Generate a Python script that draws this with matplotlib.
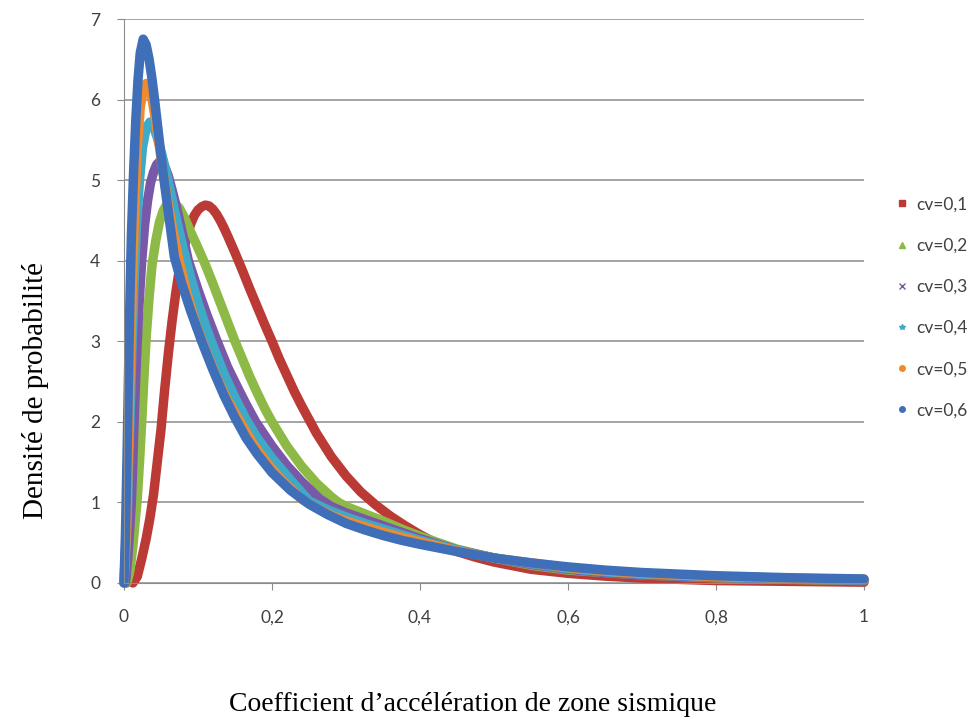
#import some functions
import matplotlib.pyplot as plt
from matplotlib.lines import Line2D

#curves for each coefficient of variation (x = acceleration coefficient, y = density)
x_cv01 = [0.012, 0.018, 0.024, 0.03, 0.035, 0.04, 0.045, 0.05, 0.055, 0.06, 0.065, 0.07, 0.075,
          0.08, 0.085, 0.09, 0.095, 0.10, 0.105, 0.11, 0.115, 0.12, 0.125, 0.13, 0.135, 0.14,
          0.15, 0.16, 0.17, 0.18, 0.19, 0.20, 0.21, 0.22, 0.23, 0.24, 0.26, 0.28, 0.30, 0.32,
          0.34, 0.36, 0.38, 0.40, 0.425, 0.45, 0.475, 0.50, 0.55, 0.60, 0.65, 0.70, 0.80,
          0.90, 1.00]
y_cv01 = [0.0, 0.08, 0.3, 0.55, 0.8, 1.1, 1.5, 1.9, 2.4, 2.85, 3.25, 3.6, 3.9,
          4.12, 4.3, 4.45, 4.56, 4.63, 4.67, 4.69, 4.68, 4.64, 4.58, 4.5, 4.41, 4.31,
          4.1, 3.88, 3.65, 3.43, 3.21, 3.0, 2.78, 2.58, 2.38, 2.2, 1.86, 1.57, 1.33, 1.13,
          0.97, 0.83, 0.71, 0.6, 0.48, 0.39, 0.32, 0.26, 0.17, 0.12, 0.085, 0.06, 0.03,
          0.02, 0.01]

x_cv02 = [0.004, 0.008, 0.012, 0.015, 0.018, 0.021, 0.024, 0.027, 0.03, 0.034, 0.038, 0.043,
          0.048, 0.053, 0.058, 0.063, 0.068, 0.075, 0.082, 0.09, 0.10, 0.11, 0.12, 0.13, 0.14,
          0.15, 0.16, 0.17, 0.18, 0.19, 0.20, 0.22, 0.24, 0.26, 0.28, 0.29, 0.30, 0.325, 0.35,
          0.375, 0.40, 0.45, 0.50, 0.55, 0.60, 0.70, 0.80, 0.90, 1.00]
y_cv02 = [0.0, 0.15, 0.45, 0.75, 1.05, 1.5, 2.0, 2.55, 3.05, 3.55, 3.95, 4.25,
          4.48, 4.62, 4.7, 4.73, 4.72, 4.65, 4.53, 4.36, 4.16, 3.95, 3.72, 3.48, 3.24,
          3.0, 2.78, 2.56, 2.36, 2.17, 2.0, 1.7, 1.45, 1.24, 1.07, 1.0, 0.95, 0.86, 0.77,
          0.67, 0.58, 0.42, 0.31, 0.22, 0.16, 0.10, 0.065, 0.045, 0.03]

x_cv03 = [0.002, 0.005, 0.008, 0.01, 0.012, 0.014, 0.017, 0.02, 0.024, 0.028, 0.032, 0.036,
          0.04, 0.044, 0.048, 0.052, 0.056, 0.06, 0.065, 0.07, 0.075, 0.08, 0.087, 0.10, 0.112,
          0.125, 0.14, 0.155, 0.165, 0.178, 0.20, 0.22, 0.24, 0.265, 0.28, 0.30, 0.325, 0.35,
          0.375, 0.40, 0.45, 0.50, 0.55, 0.60, 0.65, 0.70, 0.80, 0.90, 1.00]
y_cv03 = [0.0, 0.3, 0.7, 1.0, 1.5, 2.1, 2.8, 3.4, 4.0, 4.45, 4.75, 4.97,
          5.1, 5.19, 5.23, 5.21, 5.15, 5.05, 4.88, 4.7, 4.5, 4.3, 4.0, 3.64, 3.33,
          3.02, 2.68, 2.4, 2.22, 2.0, 1.7, 1.46, 1.26, 1.04, 0.95, 0.87, 0.79, 0.71,
          0.63, 0.55, 0.41, 0.31, 0.23, 0.17, 0.13, 0.10, 0.07, 0.05, 0.035]

x_cv04 = [0.0, 0.004, 0.006, 0.008, 0.011, 0.014, 0.017, 0.021, 0.025, 0.03, 0.035, 0.04,
          0.045, 0.05, 0.055, 0.06, 0.07, 0.08, 0.09, 0.10, 0.11, 0.12, 0.135, 0.15, 0.165,
          0.18, 0.20, 0.225, 0.25, 0.275, 0.30, 0.325, 0.35, 0.375, 0.40, 0.45, 0.50, 0.55,
          0.60, 0.65, 0.70, 0.80, 0.90, 1.00]
y_cv04 = [0.0, 0.7, 1.4, 2.0, 3.0, 3.8, 4.45, 5.0, 5.4, 5.65, 5.72, 5.66,
          5.53, 5.36, 5.18, 4.98, 4.55, 4.15, 3.8, 3.48, 3.2, 2.95, 2.6, 2.3, 2.03,
          1.8, 1.55, 1.28, 1.02, 0.91, 0.82, 0.74, 0.67, 0.6, 0.53, 0.41, 0.31, 0.24,
          0.18, 0.14, 0.11, 0.075, 0.055, 0.04]

x_cv05 = [0.0, 0.003, 0.005, 0.007, 0.009, 0.012, 0.015, 0.018, 0.022, 0.026, 0.03, 0.034,
          0.038, 0.042, 0.047, 0.052, 0.058, 0.066, 0.074, 0.085, 0.097, 0.11, 0.125, 0.14,
          0.157, 0.175, 0.195, 0.215, 0.24, 0.26, 0.28, 0.30, 0.325, 0.35, 0.375, 0.40, 0.45,
          0.50, 0.55, 0.60, 0.65, 0.70, 0.80, 0.90, 1.00]
y_cv05 = [0.0, 0.6, 1.3, 2.1, 2.9, 3.9, 4.75, 5.4, 5.9, 6.13, 6.2, 6.15,
          6.0, 5.78, 5.47, 5.15, 4.8, 4.38, 4.02, 3.6, 3.22, 2.9, 2.56, 2.27,
          2.0, 1.72, 1.47, 1.26, 1.04, 0.93, 0.84, 0.77, 0.7, 0.63, 0.57, 0.51, 0.40,
          0.31, 0.25, 0.19, 0.15, 0.12, 0.08, 0.06, 0.045]

x_cv06 = [0.0, 0.002, 0.004, 0.006, 0.008, 0.01, 0.013, 0.016, 0.019, 0.022, 0.026, 0.03,
          0.034, 0.038, 0.042, 0.047, 0.053, 0.06, 0.068, 0.078, 0.09, 0.105, 0.12, 0.135,
          0.15, 0.165, 0.18, 0.20, 0.225, 0.25, 0.275, 0.30, 0.325, 0.35, 0.375, 0.40,
          0.45, 0.50, 0.55, 0.60, 0.65, 0.70, 0.80, 0.90, 1.00]
y_cv06 = [0.0, 0.6, 1.5, 2.5, 3.5, 4.3, 5.1, 5.75, 6.25, 6.58, 6.75, 6.68,
          6.5, 6.25, 5.95, 5.55, 5.08, 4.6, 4.05, 3.72, 3.38, 3.0, 2.65, 2.33,
          2.05, 1.8, 1.6, 1.37, 1.15, 0.98, 0.85, 0.74, 0.66, 0.59, 0.53, 0.48,
          0.39, 0.31, 0.25, 0.20, 0.16, 0.13, 0.09, 0.065, 0.05]

labels = ['cv=0,1', 'cv=0,2', 'cv=0,3', 'cv=0,4', 'cv=0,5', 'cv=0,6']
colors = ['#BB3A35', '#8DB946', '#7A58A8', '#3FAAC8', '#F08A2E', '#3F6FB8']
markers = ['s', '^', 'x', '*', 'o', 'o']
xs = [x_cv01, x_cv02, x_cv03, x_cv04, x_cv05, x_cv06]
ys = [y_cv01, y_cv02, y_cv03, y_cv04, y_cv05, y_cv06]

x_ticks = [0, 0.2, 0.4, 0.6, 0.8, 1.0]
x_tick_labels = ['0', '0,2', '0,4', '0,6', '0,8', '1']
y_ticks = [0, 1, 2, 3, 4, 5, 6, 7]

plt.rcParams['font.family'] = ['Lato', 'DejaVu Sans']

fig = plt.figure(figsize=(9.73, 7.2), dpi=100)
ax = fig.add_axes([0.1274, 0.1903, 0.7606, 0.7833])

#thick lines to look like the dense marker bands
for x, y, c in zip(xs, ys, colors):
    ax.plot(x, y, color=c, lw=6.8, solid_capstyle='round', solid_joinstyle='round', clip_on=False)

ax.set_xlim(0, 1)
ax.set_ylim(0, 7)
ax.set_xticks(x_ticks)
ax.set_xticklabels(x_tick_labels)
ax.set_yticks(y_ticks)
ax.yaxis.grid(True, color='#8c8c8c', lw=1.1)
ax.set_axisbelow(True)
for s in ['top', 'right']:
    ax.spines[s].set_visible(False)
for s in ['left', 'bottom']:
    ax.spines[s].set_color('#8c8c8c')
ax.tick_params(axis='both', colors='#8c8c8c', labelcolor='#404040', labelsize=12.5, length=5)
ax.tick_params(axis='x', pad=14)
ax.tick_params(axis='y', pad=12)

#axis titles in serif
fig.text(0.036, 0.458, 'Densité de probabilité', rotation=90, ha='center', va='center',
         family='Liberation Serif', fontsize=21)
fig.text(0.486, 0.021, 'Coefficient d\u2019accélération de zone sismique', ha='center', va='center',
         family='Liberation Serif', fontsize=20)

#legend with small markers only
handles = [Line2D([], [], ls='none', marker=m, color=c, markersize=4, markeredgewidth=1)
           for m, c in zip(markers, colors)]
fig.legend(handles, labels, loc='center left', bbox_to_anchor=(0.922, 0.573), frameon=False,
           fontsize=12.5, labelspacing=1.45, handlelength=0.6, handletextpad=0.5,
           labelcolor='#404040', borderpad=0, borderaxespad=0)

plt.savefig('out.png', dpi=100)
